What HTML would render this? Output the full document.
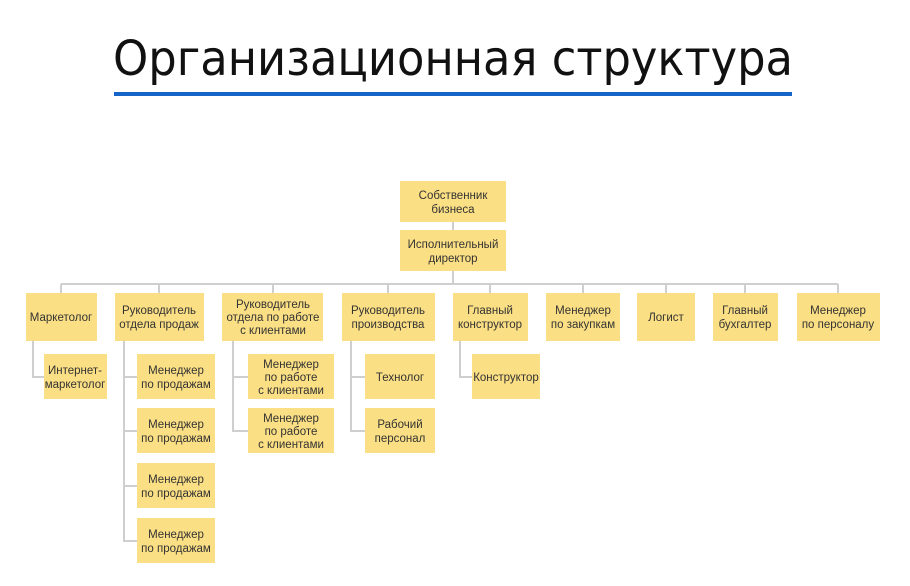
<!DOCTYPE html>
<html><head><meta charset="utf-8"><style>
html,body{margin:0;padding:0;background:#fff;}
svg{display:block;}
text{font-family:"Liberation Sans","DejaVu Sans",sans-serif;font-size:11.5px;fill:#333;}
</style></head><body>
<svg width="910" height="586" viewBox="0 0 910 586" xmlns="http://www.w3.org/2000/svg">
<text x="113" y="75" textLength="680" lengthAdjust="spacingAndGlyphs" style="font-family:'DejaVu Sans',sans-serif;font-size:48px;fill:#111;">Организационная структура</text>
<rect x="114" y="92" width="678" height="4" fill="#1565c8"/>
<g stroke="#cfcfcf" stroke-width="2" fill="none">
<line x1="453" y1="222" x2="453" y2="230"/>
<line x1="453" y1="271" x2="453" y2="284"/>
<line x1="61" y1="284" x2="838" y2="284"/>
<line x1="61" y1="284" x2="61" y2="293"/>
<line x1="159" y1="284" x2="159" y2="293"/>
<line x1="273" y1="284" x2="273" y2="293"/>
<line x1="388" y1="284" x2="388" y2="293"/>
<line x1="490" y1="284" x2="490" y2="293"/>
<line x1="583" y1="284" x2="583" y2="293"/>
<line x1="666" y1="284" x2="666" y2="293"/>
<line x1="745" y1="284" x2="745" y2="293"/>
<line x1="838" y1="284" x2="838" y2="293"/>
<path d="M33 341 V377 H44"/>
<path d="M124 341 V541 H137 M124 377 H137 M124 431 H137 M124 486 H137"/>
<path d="M233 341 V431 H248 M233 377 H248"/>
<path d="M351 341 V431 H365 M351 377 H365"/>
<path d="M460 341 V377 H472"/>
</g>
<g fill="#fbdf84">
<rect x="400" y="181" width="106" height="41"/>
<rect x="400" y="230" width="106" height="41"/>
<rect x="26" y="293" width="71" height="48"/>
<rect x="115" y="293" width="89" height="48"/>
<rect x="222" y="293" width="101" height="48"/>
<rect x="342" y="293" width="93" height="48"/>
<rect x="453" y="293" width="75" height="48"/>
<rect x="546" y="293" width="74" height="48"/>
<rect x="637" y="293" width="58" height="48"/>
<rect x="713" y="293" width="65" height="48"/>
<rect x="797" y="293" width="83" height="48"/>
<rect x="44" y="354" width="63" height="45"/>
<rect x="137" y="354" width="78" height="45"/>
<rect x="137" y="408" width="78" height="45"/>
<rect x="137" y="463" width="78" height="45"/>
<rect x="137" y="518" width="78" height="45"/>
<rect x="248" y="354" width="86" height="45"/>
<rect x="248" y="408" width="86" height="45"/>
<rect x="365" y="354" width="70" height="45"/>
<rect x="365" y="408" width="70" height="45"/>
<rect x="472" y="354" width="68" height="45"/>
</g>
<g text-anchor="middle">
<text x="453" y="199">Собственник</text><text x="453" y="213">бизнеса</text>
<text x="453" y="248">Исполнительный</text><text x="453" y="262">директор</text>
<text x="61" y="321">Маркетолог</text>
<text x="159" y="314">Руководитель</text><text x="159" y="328">отдела продаж</text>
<text x="273" y="308">Руководитель</text><text x="273" y="321">отдела по работе</text><text x="273" y="334">с клиентами</text>
<text x="388" y="314">Руководитель</text><text x="388" y="328">производства</text>
<text x="490" y="314">Главный</text><text x="490" y="328">конструктор</text>
<text x="583" y="314">Менеджер</text><text x="583" y="328">по закупкам</text>
<text x="666" y="321">Логист</text>
<text x="745" y="314">Главный</text><text x="745" y="328">бухгалтер</text>
<text x="838" y="314">Менеджер</text><text x="838" y="328">по персоналу</text>
<text x="75" y="374">Интернет-</text><text x="75" y="388">маркетолог</text>
<text x="176" y="374">Менеджер</text><text x="176" y="388">по продажам</text>
<text x="176" y="428">Менеджер</text><text x="176" y="442">по продажам</text>
<text x="176" y="483">Менеджер</text><text x="176" y="497">по продажам</text>
<text x="176" y="538">Менеджер</text><text x="176" y="552">по продажам</text>
<text x="291" y="368">Менеджер</text><text x="291" y="381">по работе</text><text x="291" y="394">с клиентами</text>
<text x="291" y="422">Менеджер</text><text x="291" y="435">по работе</text><text x="291" y="448">с клиентами</text>
<text x="400" y="381">Технолог</text>
<text x="400" y="428">Рабочий</text><text x="400" y="442">персонал</text>
<text x="506" y="381">Конструктор</text>
</g>
</svg>
</body></html>
